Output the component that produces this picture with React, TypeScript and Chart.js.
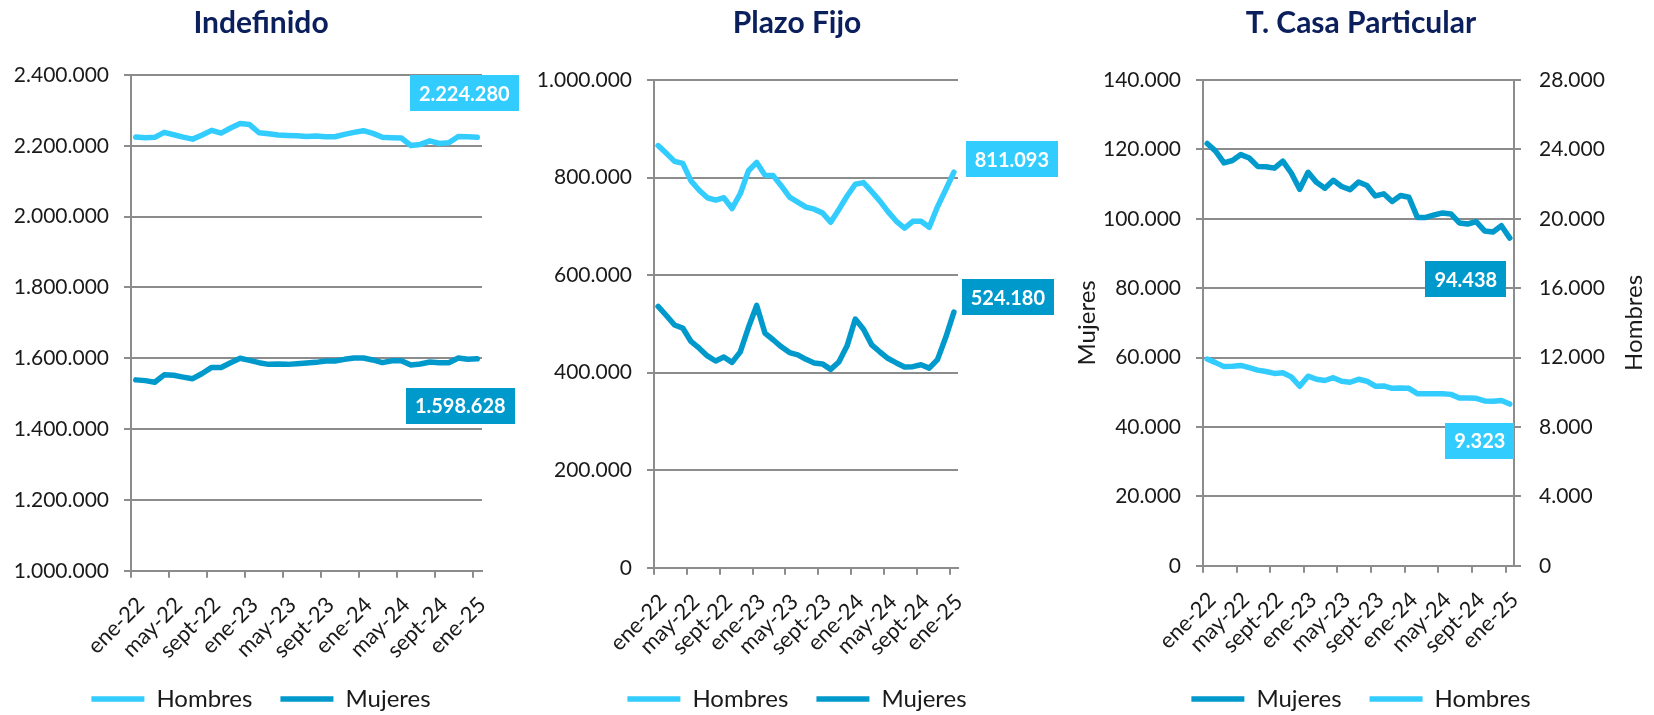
import React, { useEffect, useRef } from 'react';
import { Chart, registerables } from 'chart.js';

Chart.register(...registerables);

// ---------- categories ----------
const MONTH_ABBR = ['ene', 'feb', 'mar', 'abr', 'may', 'jun', 'jul', 'ago', 'sept', 'oct', 'nov', 'dic'];
const YEARS = ['22', '23', '24'];
const CATEGORIES: string[] = [...YEARS.flatMap((y) => MONTH_ABBR.map((m) => `${m}-${y}`)), 'ene-25'];
const LABEL_EVERY = 4;

// ---------- series ----------
const INDEF_HOMBRES = [
  2224600, 2222900, 2224000, 2238000, 2231400, 2224600, 2218900, 2230500, 2243700, 2236000,
  2250300, 2262800, 2260000, 2236900, 2234000, 2230500, 2229400, 2228500, 2226600, 2227600,
  2225700, 2225700, 2232400, 2238000, 2242800, 2235200, 2224000, 2223000, 2222000, 2201000,
  2204000, 2214000, 2206600, 2208500, 2226600, 2225700, 2224280,
];
const INDEF_MUJERES = [
  1539100, 1537000, 1532500, 1553400, 1552000, 1547000, 1542400, 1557100, 1574300, 1574300,
  1587700, 1600000, 1594300, 1587700, 1582900, 1583800, 1582900, 1584700, 1586700, 1588600,
  1592400, 1592400, 1597100, 1600900, 1600900, 1595300, 1587700, 1593300, 1593300, 1581000,
  1583800, 1589500, 1587700, 1587700, 1600900, 1597100, 1598628,
];
const PLAZO_HOMBRES = [
  865600, 849700, 833100, 829000, 793200, 773900, 758600, 753800, 758600, 736600,
  766900, 813900, 831000, 805000, 804000, 782800, 760000, 749700, 739400, 735200,
  727600, 708300, 734600, 762100, 786300, 789700, 771000, 751800, 729600, 710400,
  696500, 710400, 710400, 698000, 740000, 775000, 811093,
];
const PLAZO_MUJERES = [
  535800, 517200, 497700, 491500, 464000, 450100, 434400, 424000, 432300, 421000,
  442700, 493000, 537900, 481200, 467500, 453000, 441200, 436500, 427400, 420000,
  418000, 406800, 421900, 455000, 510000, 489000, 457000, 442400, 429000, 420000,
  411700, 412400, 416200, 409300, 426700, 472000, 524180,
];
const CASA_MUJERES = [
  121700, 119500, 116100, 116800, 118500, 117500, 115100, 115000, 114600, 116600,
  113200, 108500, 113400, 110500, 108800, 111100, 109300, 108400, 110600, 109600,
  106600, 107200, 105000, 106700, 106200, 100400, 100400, 101100, 101700, 101400,
  98800, 98500, 99200, 96500, 96200, 98000, 94438,
];
const CASA_HOMBRES = [
  11920, 11710, 11480, 11500, 11550, 11420, 11280, 11200, 11090, 11130,
  10890, 10350, 10930, 10750, 10680, 10840, 10640, 10580, 10750, 10640,
  10350, 10370, 10230, 10250, 10230, 9920, 9920, 9920, 9920, 9880,
  9670, 9670, 9650, 9500, 9480, 9530, 9323,
];

// ---------- styles ----------
const COLOR_HOMBRES = '#33CCFF';
const COLOR_MUJERES = '#0099CC';
const GRID = '#8C8C8C';
const TEXT = '#1A1A1A';
const TITLE_COLOR = '#0B1F5C';
const FONT = 'Lato, "Open Sans", sans-serif';
const CANVAS_H = 721;
const TICK_FONT = 21;
const XTICK_FONT = 22;
const LEGEND_FONT = 24;
const LEGEND_PAD = 28;
const TITLE_FONT = 30;
const BADGE_FONT = 20;
const BADGE_H = 36;
const BADGE_PAD_X = 9;
const LINE_W = 5.5;

Chart.defaults.font.family = FONT;
Chart.defaults.color = TEXT;

const fmt = (v: number) => String(Math.round(v)).replace(/\B(?=(\d{3})+(?!\d))/g, '.');

type Series = { label: string; data: number[]; color: string; axis: string };
type Badge = { series: number; color: string; dx: number; dy: number };
type AxisSpec = { min: number; max: number; step: number };
type PanelSpec = {
  title: string;
  left: number;
  width: number;
  plotTop: number;
  plotBottom: number;
  yWidth: number;
  rightWidth: number;
  series: Series[];
  y: AxisSpec;
  y2?: AxisSpec;
  yTitle?: string;
  y2Title?: string;
  badges: Badge[];
};

const PANELS: PanelSpec[] = [
  {
    title: 'Indefinido',
    left: 0,
    width: 522,
    plotTop: 75,
    plotBottom: 566,
    yWidth: 131,
    rightWidth: 40,
    series: [
      { label: 'Hombres', data: INDEF_HOMBRES, color: COLOR_HOMBRES, axis: 'y' },
      { label: 'Mujeres', data: INDEF_MUJERES, color: COLOR_MUJERES, axis: 'y' },
    ],
    y: { min: 1000000, max: 2400000, step: 200000 },
    badges: [
      { series: 0, color: COLOR_HOMBRES, dx: -13, dy: -44 },
      { series: 1, color: COLOR_MUJERES, dx: -17, dy: 47 },
    ],
  },
  {
    title: 'Plazo Fijo',
    left: 530,
    width: 534,
    plotTop: 80,
    plotBottom: 563,
    yWidth: 124,
    rightWidth: 106,
    series: [
      { label: 'Hombres', data: PLAZO_HOMBRES, color: COLOR_HOMBRES, axis: 'y' },
      { label: 'Mujeres', data: PLAZO_MUJERES, color: COLOR_MUJERES, axis: 'y' },
    ],
    y: { min: 0, max: 1000000, step: 200000 },
    badges: [
      { series: 0, color: COLOR_HOMBRES, dx: 58, dy: -13 },
      { series: 1, color: COLOR_MUJERES, dx: 54, dy: -15 },
    ],
  },
  {
    title: 'T. Casa Particular',
    left: 1065,
    width: 592,
    plotTop: 80,
    plotBottom: 561,
    yWidth: 138,
    rightWidth: 143,
    series: [
      { label: 'Mujeres', data: CASA_MUJERES, color: COLOR_MUJERES, axis: 'y' },
      { label: 'Hombres', data: CASA_HOMBRES, color: COLOR_HOMBRES, axis: 'y2' },
    ],
    y: { min: 0, max: 140000, step: 20000 },
    y2: { min: 0, max: 28000, step: 4000 },
    yTitle: 'Mujeres',
    y2Title: 'Hombres',
    badges: [
      { series: 0, color: COLOR_MUJERES, dx: -44, dy: 41 },
      { series: 1, color: COLOR_HOMBRES, dx: -30, dy: 37 },
    ],
  },
];

function makeBadgePlugin(items: Badge[]) {
  return {
    id: 'valueBadges',
    afterDatasetsDraw(chart: any) {
      const ctx = chart.ctx as CanvasRenderingContext2D;
      ctx.save();
      ctx.font = `bold ${BADGE_FONT}px ${FONT}`;
      ctx.textAlign = 'center';
      ctx.textBaseline = 'middle';
      for (const b of items) {
        const ds = chart.data.datasets[b.series];
        const data = ds.data as number[];
        const last = data.length - 1;
        const yScale = chart.scales[ds.yAxisID || 'y'];
        const pt = chart.getDatasetMeta(b.series).data[last];
        const py = yScale.getPixelForValue(data[last]);
        const text = fmt(data[last]);
        const w = ctx.measureText(text).width + BADGE_PAD_X * 2;
        const cx = pt.x + b.dx;
        const cy = py + b.dy;
        ctx.fillStyle = b.color;
        ctx.fillRect(Math.round(cx - w / 2), Math.round(cy - BADGE_H / 2), Math.round(w), BADGE_H);
        ctx.fillStyle = '#FFFFFF';
        ctx.fillText(text, cx, cy + 1);
      }
      ctx.restore();
    },
  };
}

function makeSideTitlePlugin(text: string, scaleId: string, inset: number) {
  return {
    id: 'sideTitle',
    afterDraw(chart: any) {
      const s = chart.scales[scaleId];
      if (!s) return;
      const ctx = chart.ctx as CanvasRenderingContext2D;
      ctx.save();
      ctx.font = `${LEGEND_FONT}px ${FONT}`;
      ctx.fillStyle = TEXT;
      ctx.textAlign = 'center';
      ctx.textBaseline = 'middle';
      ctx.translate(s.right - inset, (chart.chartArea.top + chart.chartArea.bottom) / 2);
      ctx.rotate(-Math.PI / 2);
      ctx.fillText(text, 0, 0);
      ctx.restore();
    },
  };
}

function buildConfig(spec: PanelSpec): any {
  const titleLine = TITLE_FONT * 1.2;
  const titlePadTop = 5;
  const titlePadBottom = spec.plotTop - titlePadTop - titleLine;
  const legendH = LEGEND_FONT * 1.2 + LEGEND_PAD + 10;
  const xHeight = CANVAS_H - legendH - spec.plotBottom;

  const yScale = (a: AxisSpec, position: string, onArea: boolean, width: number, pad: number, title?: string) => ({
    type: 'linear',
    position,
    min: a.min,
    max: a.max,
    ticks: {
      stepSize: a.step,
      padding: pad,
      color: TEXT,
      font: { size: TICK_FONT },
      callback: (v: number) => fmt(v),
    },
    grid: {
      display: true,
      drawOnChartArea: onArea,
      drawTicks: true,
      tickLength: 7,
      color: GRID,
      lineWidth: 2,
    },
    border: { display: true, color: GRID, width: 2 },
    title: title
      ? { display: true, text: title, color: TEXT, font: { size: LEGEND_FONT }, padding: { top: 8, bottom: 0 } }
      : { display: false },
    afterFit: (s: any) => {
      s.width = width;
    },
  });

  const scales: any = {
    x: {
      type: 'category',
      offset: true,
      grid: {
        display: true,
        offset: true,
        drawOnChartArea: false,
        drawTicks: true,
        tickLength: 7,
        lineWidth: 2,
        tickWidth: 2,
        color: GRID,
        tickColor: (c: any) => (c.index % LABEL_EVERY === 0 ? GRID : 'rgba(0,0,0,0)'),
      },
      border: { display: true, color: GRID, width: 2 },
      ticks: {
        autoSkip: false,
        maxRotation: 45,
        minRotation: 45,
        padding: 14,
        labelOffset: 5,
        color: TEXT,
        font: { size: XTICK_FONT },
        callback: (_v: any, i: number) => (i % LABEL_EVERY === 0 ? CATEGORIES[i] : ''),
      },
      afterFit: (s: any) => {
        s.height = xHeight;
      },
    },
    y: yScale(spec.y, 'left', true, spec.yWidth, 15, spec.yTitle),
  };
  if (spec.y2) {
    scales.y2 = yScale(spec.y2, 'right', false, spec.rightWidth, 18);
  } else {
    scales.pad = {
      type: 'linear',
      position: 'right',
      display: true,
      grid: { display: false },
      border: { display: false },
      ticks: { display: false },
      afterFit: (s: any) => {
        s.width = spec.rightWidth;
      },
    };
  }

  const plugins: any[] = [makeBadgePlugin(spec.badges)];
  if (spec.y2Title) plugins.push(makeSideTitlePlugin(spec.y2Title, 'y2', 8 + (LEGEND_FONT * 1.2) / 2));

  return {
    type: 'line',
    data: {
      labels: CATEGORIES,
      datasets: spec.series.map((s) => ({
        label: s.label,
        data: s.data,
        yAxisID: s.axis,
        borderColor: s.color,
        backgroundColor: s.color,
        borderWidth: LINE_W,
        borderCapStyle: 'round',
        borderJoinStyle: 'round',
        pointRadius: 0,
        pointHoverRadius: 0,
        tension: 0,
        fill: false,
      })),
    },
    options: {
      responsive: false,
      maintainAspectRatio: false,
      animation: false,
      events: [],
      layout: { padding: 0 },
      scales,
      plugins: {
        title: {
          display: true,
          text: spec.title,
          color: TITLE_COLOR,
          font: { size: TITLE_FONT, weight: 'bold' },
          padding: { top: titlePadTop, bottom: titlePadBottom },
        },
        legend: {
          display: true,
          position: 'bottom',
          labels: {
            usePointStyle: true,
            pointStyle: 'line',
            pointStyleWidth: 53,
            padding: LEGEND_PAD,
            color: TEXT,
            font: { size: LEGEND_FONT },
          },
        },
        tooltip: { enabled: false },
      },
    },
    plugins,
  };
}

function Panel({ spec }: { spec: PanelSpec }) {
  const ref = useRef<HTMLCanvasElement>(null);
  useEffect(() => {
    if (!ref.current) return;
    const chart = new Chart(ref.current, buildConfig(spec));
    return () => chart.destroy();
  }, [spec]);
  return (
    <canvas
      ref={ref}
      width={spec.width}
      height={CANVAS_H}
      style={{ position: 'absolute', left: spec.left, top: 0, width: spec.width, height: CANVAS_H }}
    />
  );
}

export default function App() {
  return (
    <div
      style={{
        position: 'fixed',
        left: 0,
        top: 0,
        width: 1654,
        height: 715,
        overflow: 'hidden',
        background: '#FFFFFF',
      }}
    >
      {PANELS.map((p, i) => (
        <Panel key={i} spec={p} />
      ))}
    </div>
  );
}
